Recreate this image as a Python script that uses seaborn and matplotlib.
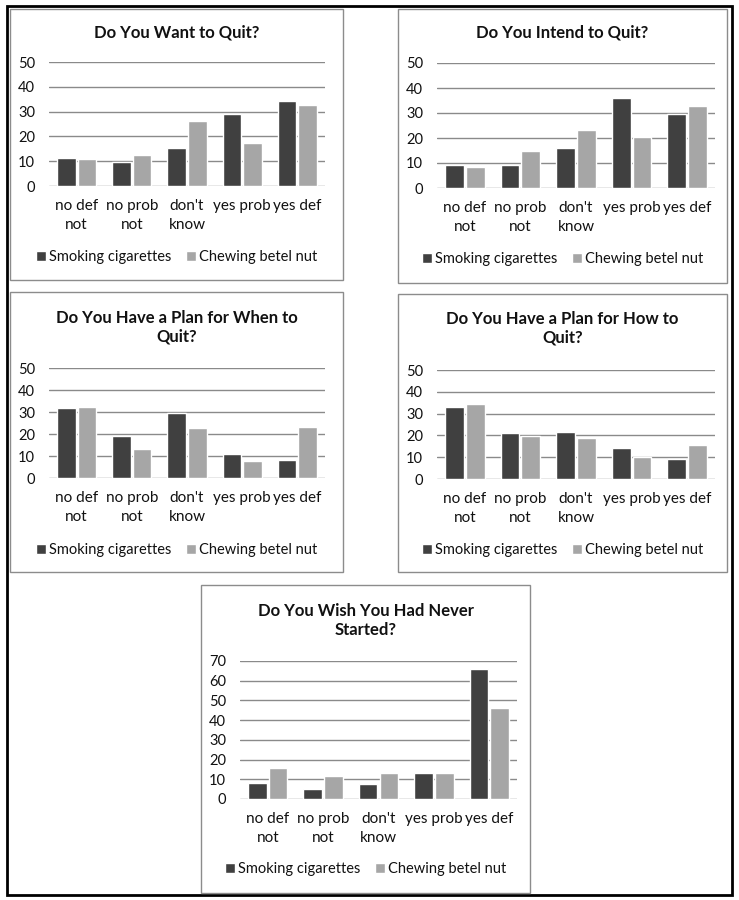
import matplotlib
matplotlib.use("Agg")
import matplotlib.pyplot as plt
import seaborn as sns
import pandas as pd
from matplotlib.patches import Rectangle

# ---------------- data ----------------
categories = ["no def\nnot", "no prob\nnot", "don't\nknow", "yes prob", "yes def"]
series_names = ["Smoking cigarettes", "Chewing betel nut"]

want_smoke = [11.1, 9.5, 15.5, 29.2, 34.3]
want_chew = [10.9, 12.3, 26.2, 17.4, 32.8]

intend_smoke = [9.4, 9.1, 16.0, 35.9, 29.5]
intend_chew = [8.6, 14.9, 23.3, 20.5, 32.7]

when_smoke = [32.0, 19.2, 29.4, 10.7, 8.1]
when_chew = [32.5, 13.1, 22.6, 7.6, 23.3]

how_smoke = [32.9, 21.1, 21.7, 14.0, 9.4]
how_chew = [34.5, 19.7, 18.9, 10.2, 15.7]

never_smoke = [8.3, 5.2, 7.4, 13.0, 65.8]
never_chew = [15.5, 11.6, 13.0, 13.3, 46.4]

titles = [
    "Do You Want to Quit?",
    "Do You Intend to Quit?",
    "Do You Have a Plan for When to\nQuit?",
    "Do You Have a Plan for How to\nQuit?",
    "Do You Wish You Had Never\nStarted?",
]

# ---------------- style ----------------
sns.set_theme(style="white")
plt.rcParams["font.family"] = ["Lato", "DejaVu Sans"]

W, H = 739, 900
fig = plt.figure(figsize=(W / 100, H / 100), dpi=100)
fig.patch.set_facecolor("white")

DARK = "#404040"
LIGHT = "#a6a6a6"
GRID = "#8a8a8a"
TXT = "#111111"


def fx(x):
    return x / W


def fy(y):
    return 1 - y / H


def frame(l, t, r, b, color, lw):
    fig.add_artist(Rectangle((fx(l), fy(b)), fx(r) - fx(l), fy(t) - fy(b),
                             transform=fig.transFigure, fill=False,
                             edgecolor=color, linewidth=lw))


# outer border
frame(7, 6, 732, 895, "black", 2.0)

panels = [
    dict(box=(10, 9, 343, 280), ax=(49, 62, 325, 186), ty=33, ly=257, ymax=50,
         s=want_smoke, c=want_chew),
    dict(box=(398, 9, 727, 283), ax=(437, 63, 715, 188), ty=33, ly=259, ymax=50,
         s=intend_smoke, c=intend_chew),
    dict(box=(10, 292, 343, 572), ax=(49, 368, 325, 478), ty=327.5, ly=550, ymax=50,
         s=when_smoke, c=when_chew),
    dict(box=(398, 294, 727, 572), ax=(437, 370, 715, 479), ty=328, ly=550, ymax=50,
         s=how_smoke, c=how_chew),
    dict(box=(201, 585, 530, 893), ax=(240, 661, 517, 799), ty=620.5, ly=869, ymax=70,
         s=never_smoke, c=never_chew),
]

for p, title in zip(panels, titles):
    bl, bt, br, bb = p["box"]
    frame(bl, bt, br, bb, "#8c8c8c", 1.0)
    al, at, ar, ab = p["ax"]
    ax = fig.add_axes([fx(al), fy(ab), fx(ar) - fx(al), fy(at) - fy(ab)])
    df = pd.DataFrame({
        "Answer": categories * 2,
        "Product": [series_names[0]] * 5 + [series_names[1]] * 5,
        "Percent": list(p["s"]) + list(p["c"]),
    })
    sns.barplot(data=df, x="Answer", y="Percent", hue="Product",
                order=categories, hue_order=series_names,
                palette=[DARK, LIGHT], width=0.75, gap=0.1,
                saturation=1, errorbar=None, ax=ax, legend=True)
    ax.set_ylim(0, p["ymax"])
    ax.set_yticks(range(0, p["ymax"] + 1, 10))
    ax.set_xlim(-0.5, 4.5)
    for sp in ax.spines.values():
        sp.set_visible(False)
    ax.grid(axis="y", color=GRID, linewidth=1.0)
    ax.grid(axis="x", visible=False)
    ax.set_axisbelow(True)
    ax.set_xlabel("")
    ax.set_ylabel("")
    ax.set_facecolor("none")
    ax.tick_params(axis="y", length=0, pad=10, labelsize=10.5, labelcolor=TXT)
    ax.tick_params(axis="x", length=0, pad=9.5, labelsize=11, labelcolor=TXT)
    for lab in ax.get_xticklabels():
        lab.set_linespacing(1.4)
    cx = (bl + br) / 2
    sns.move_legend(ax, "center", bbox_to_anchor=(fx(cx), fy(p["ly"])),
                    bbox_transform=fig.transFigure, ncol=2, frameon=False,
                    title=None, fontsize=10.5, handlelength=0.7, handleheight=0.7,
                    handletextpad=0.2, columnspacing=1.0)
    for t in ax.get_legend().get_texts():
        t.set_color(TXT)
    fig.text(fx(cx), fy(p["ty"]), title, ha="center", va="center",
             fontsize=12, fontweight="bold", color=TXT, linespacing=1.2)

fig.savefig("out.png", dpi=100, facecolor="white")
